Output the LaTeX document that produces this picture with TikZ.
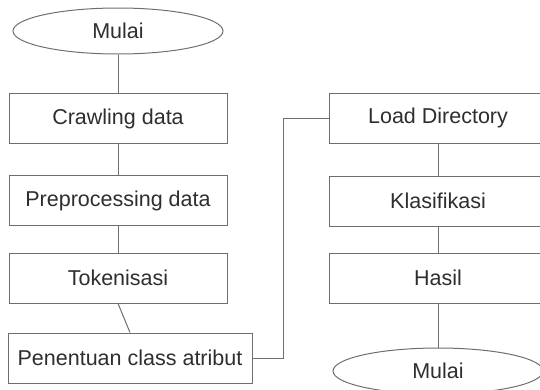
\documentclass[tikz,border=0pt]{standalone}
\usepackage{fontspec}
\setmainfont{Liberation Sans}
\usetikzlibrary{shapes.geometric}
\definecolor{linegray}{HTML}{6E6E6E}
\definecolor{textgray}{HTML}{2E2E2E}
\begin{document}
\begin{tikzpicture}[x=1pt,y=-1pt,
  every node/.style={font=\fontsize{21.5}{24}\selectfont, text=textgray},
  stepbox/.style={draw=linegray, line width=1pt, rectangle, inner sep=0pt,
    minimum width=218pt, minimum height=50pt},
  terminal/.style={draw=linegray, line width=1pt, ellipse, inner sep=0pt,
    minimum width=210pt, minimum height=46pt},
  link/.style={draw=linegray, line width=1pt}]
  \useasboundingbox (0,0) rectangle (540,389);
  \clip (0,0) rectangle (540,389);
  % left column
  \node[terminal] (start) at (118,31) {Mulai};
  \node[stepbox] (crawl) at (118,118.5) {Crawling data};
  \node[stepbox] (prep) at (118,200.5) {Preprocessing data};
  \node[stepbox] (tok) at (118,278) {Tokenisasi};
  \node[stepbox, minimum width=244pt] (pen) at (130,358) {Penentuan class atribut};
  % right column
  \node[stepbox] (load) at (438,118) {Load Directory};
  \node[stepbox] (klas) at (438,201) {Klasifikasi};
  \node[stepbox] (hasil) at (438,278) {Hasil};
  \node[terminal] (finish) at (438,371) {Mulai};
  % connectors
  \coordinate (bend) at (283,358);
  \draw[link] (start) -- (crawl);
  \draw[link] (crawl) -- (prep);
  \draw[link] (prep) -- (tok);
  \draw[link] (tok.south) -- (pen.north);
  \draw[link] (pen.east) -- (bend) |- (load.west);
  \draw[link] (load) -- (klas);
  \draw[link] (klas) -- (hasil);
  \draw[link] (hasil) -- (finish);
\end{tikzpicture}
\end{document}
